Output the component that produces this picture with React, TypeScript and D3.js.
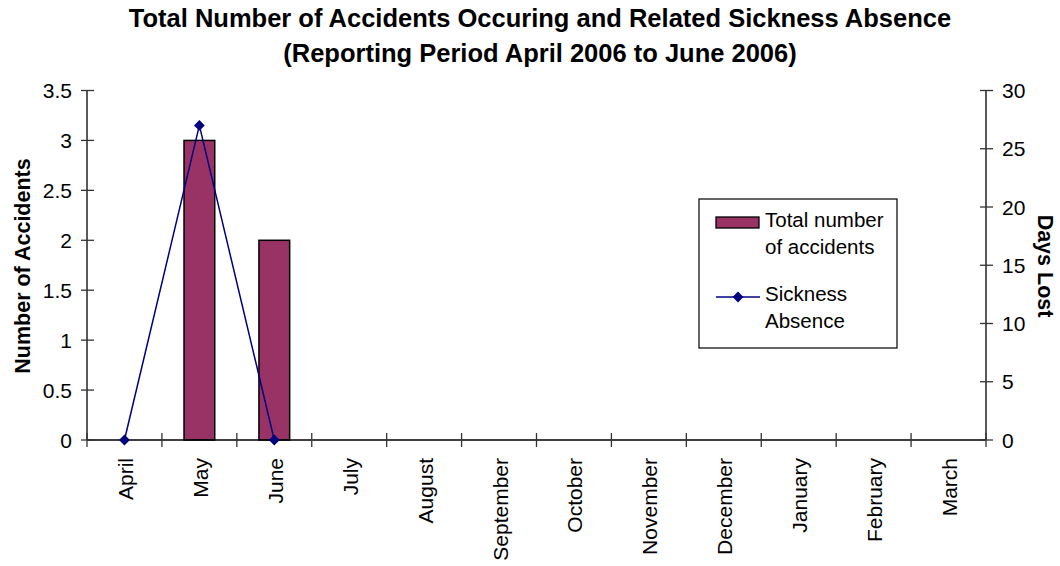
import { useEffect, useRef } from "react";
import * as d3 from "d3";

const months = [
  "April", "May", "June", "July", "August", "September",
  "October", "November", "December", "January", "February", "March",
];
// Total number of accidents per month (left axis)
const accidents: (number | null)[] = [0, 3, 2, null, null, null, null, null, null, null, null, null];
// Sickness absence, days lost (right axis); only reported months
const daysLost: number[] = [0, 27, 0];

const leftTicks = [0, 0.5, 1, 1.5, 2, 2.5, 3, 3.5];
const rightTicks = [0, 5, 10, 15, 20, 25, 30];

const W = 1060;
const H = 566;
const plot = { left: 87, right: 986, top: 90.5, bottom: 440 };
const FONT = "Arial, 'Liberation Sans', sans-serif";
const BAR = "#993366";
const LINE = "#000080";

export default function App() {
  const ref = useRef<SVGSVGElement>(null);

  useEffect(() => {
    const svg = d3.select(ref.current);
    svg.selectAll("*").remove();

    const x = d3.scaleBand().domain(months).range([plot.left, plot.right]);
    const yL = d3.scaleLinear().domain([0, 3.5]).range([plot.bottom, plot.top]);
    const yR = d3.scaleLinear().domain([0, 30]).range([plot.bottom, plot.top]);
    const barW = x.bandwidth() * 0.41;
    const cx = (m: string) => (x(m) ?? 0) + x.bandwidth() / 2;

    // title
    const title = svg.append("g")
      .attr("font-family", FONT).attr("font-weight", "bold")
      .attr("font-size", 25.5).attr("text-anchor", "middle").attr("fill", "#000");
    title.append("text").attr("x", 540).attr("y", 27)
      .text("Total Number of Accidents Occuring and Related Sickness Absence");
    title.append("text").attr("x", 540).attr("y", 62)
      .text("(Reporting Period April 2006 to June 2006)");

    // bars
    svg.append("g").selectAll("rect")
      .data(months.map((m, i) => ({ m, v: accidents[i] })).filter((d) => d.v != null && d.v > 0))
      .join("rect")
      .attr("x", (d) => cx(d.m) - barW / 2)
      .attr("y", (d) => yL(d.v as number))
      .attr("width", barW)
      .attr("height", (d) => plot.bottom - yL(d.v as number))
      .attr("fill", BAR)
      .attr("stroke", "#000")
      .attr("stroke-width", 1.5);

    // axes
    const axes = svg.append("g").attr("stroke", "#000").attr("stroke-width", 1.3);
    axes.append("line").attr("x1", plot.left).attr("x2", plot.left)
      .attr("y1", plot.top).attr("y2", plot.bottom);
    axes.append("line").attr("x1", plot.right).attr("x2", plot.right)
      .attr("y1", plot.top).attr("y2", plot.bottom);
    axes.append("line").attr("x1", plot.left).attr("x2", plot.right)
      .attr("y1", plot.bottom).attr("y2", plot.bottom);

    const ticks = svg.append("g").attr("stroke", "#333").attr("stroke-width", 1.3);
    leftTicks.forEach((t) => {
      ticks.append("line").attr("x1", plot.left - 6).attr("x2", plot.left + 7)
        .attr("y1", yL(t)).attr("y2", yL(t));
    });
    rightTicks.forEach((t) => {
      ticks.append("line").attr("x1", plot.right - 6).attr("x2", plot.right + 7)
        .attr("y1", yR(t)).attr("y2", yR(t));
    });
    months.concat([""]).forEach((_, i) => {
      const xx = plot.left + i * x.step();
      ticks.append("line").attr("x1", xx).attr("x2", xx)
        .attr("y1", plot.bottom - 7).attr("y2", plot.bottom + 7);
    });

    const labels = svg.append("g").attr("font-family", FONT).attr("font-size", 21).attr("fill", "#000");
    leftTicks.forEach((t) => {
      labels.append("text").attr("x", 72).attr("y", yL(t))
        .attr("text-anchor", "end").attr("dominant-baseline", "central").text(String(t));
    });
    rightTicks.forEach((t) => {
      labels.append("text").attr("x", 1002).attr("y", yR(t))
        .attr("dominant-baseline", "central").text(String(t));
    });
    months.forEach((m) => {
      labels.append("text")
        .attr("transform", `translate(${cx(m) + 1},458) rotate(-90)`)
        .attr("text-anchor", "end").attr("dominant-baseline", "central").text(m);
    });

    // axis titles
    svg.append("text")
      .attr("transform", "translate(23,266) rotate(-90)")
      .attr("text-anchor", "middle").attr("dominant-baseline", "central")
      .attr("font-family", FONT).attr("font-weight", "bold").attr("font-size", 21.5)
      .text("Number of Accidents");
    svg.append("text")
      .attr("transform", "translate(1045,266) rotate(90)")
      .attr("text-anchor", "middle").attr("dominant-baseline", "central")
      .attr("font-family", FONT).attr("font-weight", "bold").attr("font-size", 21.5)
      .text("Days Lost");

    // sickness absence line
    const pts = daysLost.map((v, i) => ({ m: months[i], v }));
    const line = d3.line<{ m: string; v: number }>().x((d) => cx(d.m)).y((d) => yR(d.v));
    svg.append("path").datum(pts).attr("d", line)
      .attr("fill", "none").attr("stroke", LINE).attr("stroke-width", 1.5);
    const diamond = d3.symbol().type(d3.symbolDiamond2).size(75);
    svg.append("g").selectAll("path").data(pts).join("path")
      .attr("transform", (d) => `translate(${cx(d.m)},${yR(d.v)})`)
      .attr("d", diamond).attr("fill", LINE);

    // legend
    const lg = svg.append("g");
    lg.append("rect").attr("x", 699).attr("y", 199).attr("width", 198).attr("height", 149)
      .attr("fill", "#fff").attr("stroke", "#000").attr("stroke-width", 1.2);
    lg.append("rect").attr("x", 716).attr("y", 217).attr("width", 43).attr("height", 11)
      .attr("fill", BAR).attr("stroke", "#000").attr("stroke-width", 1.3);
    lg.append("line").attr("x1", 716).attr("x2", 760).attr("y1", 297).attr("y2", 297)
      .attr("stroke", LINE).attr("stroke-width", 1.5);
    lg.append("path").attr("transform", "translate(738,297)").attr("d", diamond).attr("fill", LINE);
    const lt = lg.append("g").attr("font-family", FONT).attr("font-size", 20.5).attr("fill", "#000");
    [["Total number", 227], ["of accidents", 254], ["Sickness", 301], ["Absence", 328]].forEach(([t, y]) => {
      lt.append("text").attr("x", 765).attr("y", y as number).text(t as string);
    });
  }, []);

  return (
    <svg ref={ref} width={W} height={H}
      style={{ position: "absolute", left: 0, top: 0, background: "#fff" }} />
  );
}
